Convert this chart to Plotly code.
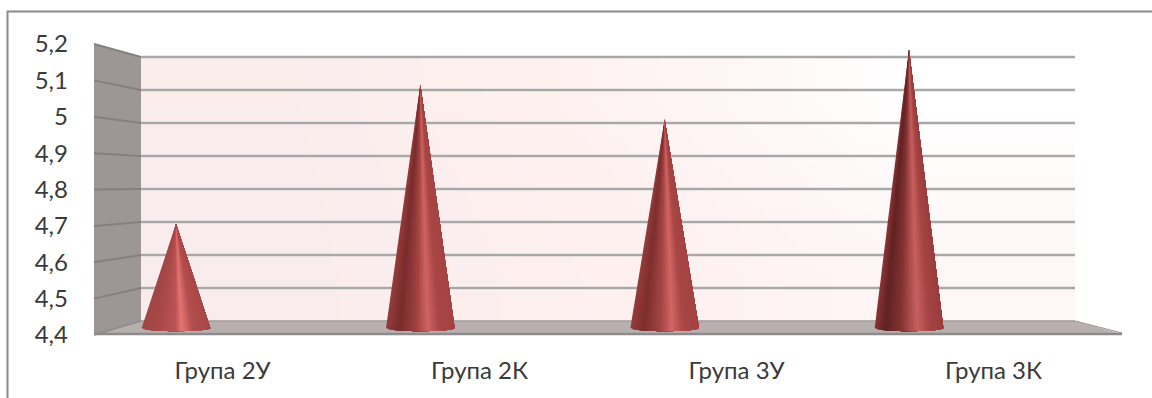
import plotly.graph_objects as go

# Chart data
groups = ["Група 2У", "Група 2К", "Група 3У", "Група 3К"]
values = [4.7, 5.1, 5.0, 5.2]
tick_values = [4.4, 4.5, 4.6, 4.7, 4.8, 4.9, 5.0, 5.1, 5.2]
tick_labels = ["4,4", "4,5", "4,6", "4,7", "4,8", "4,9", "5", "5,1", "5,2"]

W, H = 1152, 398
Y_MIN = 4.4

# Screen geometry of the pseudo-3D box
FRONT_L, FRONT_R = 94, 1122
BACK_L, BACK_R = 141, 1075
BACK_Y0, BACK_STEP = 321, 330.0    # back wall: pixel of 4.4, pixels per unit
FRONT_Y0, FRONT_STEP = 335, 363.75  # front edge of the box
MID_Y0, MID_STEP = 328, 347.5       # plane through the cone axes
CONE_X0, CONE_DX = 176, 244.33      # cone centres on screen
LABEL_X0, LABEL_DX = 222.5, 257     # category label centres on screen


def back_y(v):
    return BACK_Y0 - (v - Y_MIN) * BACK_STEP


def front_y(v):
    return FRONT_Y0 - (v - Y_MIN) * FRONT_STEP


def mix(stops, t):
    for (t0, c0), (t1, c1) in zip(stops, stops[1:]):
        if t <= t1:
            k = (t - t0) / (t1 - t0)
            rgb = [round(a + (b - a) * k) for a, b in zip(c0, c1)]
            return f"rgb({rgb[0]},{rgb[1]},{rgb[2]})"
    return "rgb({},{},{})".format(*stops[-1][1])


def poly(xs, ys, color, line=None, width=0):
    return go.Scatter(
        x=xs, y=ys, mode="lines", fill="toself", fillcolor=color,
        line=dict(color=line or color, width=width), hoverinfo="skip",
        showlegend=False, xaxis="x", yaxis="y",
    )


def stroke(xs, ys, color, width):
    return go.Scatter(
        x=xs, y=ys, mode="lines", line=dict(color=color, width=width),
        hoverinfo="skip", showlegend=False, xaxis="x", yaxis="y",
    )


traces = []

# Back wall with a soft diagonal pink wash (cell edges bound it to the wall)
traces.append(go.Heatmap(
    x=[BACK_L, BACK_L + 311, BACK_L + 622, BACK_R],
    y=[back_y(5.2), back_y(4.93), back_y(4.67), back_y(4.4)],
    z=[[0.05, 0.55, 1.0],
       [0.02, 0.45, 0.85],
       [0.0, 0.38, 0.72]],
    zmin=0, zmax=1, zsmooth="best", showscale=False, hoverinfo="skip",
    colorscale=[[0, "#f9ecec"], [0.4, "#fdf0ef"], [0.7, "#fef6f5"], [1, "#ffffff"]],
    xaxis="x", yaxis="y",
))

# Floor and left wall
traces.append(poly([BACK_L, BACK_R, FRONT_R, FRONT_L],
                   [BACK_Y0, BACK_Y0, FRONT_Y0 - 1, FRONT_Y0 - 1], "#b8b0b0"))
traces.append(poly([FRONT_L, BACK_L, BACK_L, FRONT_L],
                   [front_y(5.2), back_y(5.2), BACK_Y0, FRONT_Y0], "#9d9696"))

# Gridlines bending from the side wall onto the back wall
for v in tick_values:
    if v == Y_MIN:
        continue
    traces.append(stroke([FRONT_L, BACK_L], [front_y(v), back_y(v)], "#858080", 2))
    traces.append(stroke([BACK_L, BACK_R], [back_y(v), back_y(v)], "#d4d2d2", 3))
    traces.append(stroke([BACK_L, BACK_R], [back_y(v), back_y(v)], "#9b9a9a", 1.5))

# Box outline along the floor
traces.append(stroke([BACK_L, BACK_R], [BACK_Y0, BACK_Y0], "#a09a9a", 1.5))
traces.append(stroke([BACK_L, FRONT_L], [BACK_Y0, FRONT_Y0], "#8f8b8b", 1.5))
traces.append(stroke([FRONT_L, FRONT_R], [FRONT_Y0 - 1, FRONT_Y0 - 1], "#8c8a8a", 2.5))
traces.append(stroke([BACK_R, FRONT_R], [BACK_Y0, FRONT_Y0 - 2], "#9a9595", 1.2))

# Chart frame
traces.append(stroke([7.5, 7.5, W], [H, 11.5, 11.5], "#8a8a8a", 2))

# Cone shading, left edge to right edge, one palette per cone
palettes = [
    [(-1, (160, 70, 70)), (-0.5, (170, 72, 72)), (0.0, (188, 84, 84)), (0.16, (230, 116, 114)),
     (0.5, (178, 78, 78)), (1, (170, 70, 70))],
    [(-1, (150, 60, 60)), (-0.6, (120, 44, 44)), (-0.1, (160, 66, 66)), (0.22, (208, 100, 98)),
     (0.55, (168, 70, 70)), (1, (165, 66, 66))],
    [(-1, (150, 60, 60)), (-0.6, (125, 46, 46)), (-0.1, (165, 70, 70)), (0.22, (210, 102, 100)),
     (0.55, (168, 70, 70)), (1, (165, 66, 66))],
    [(-1, (140, 52, 52)), (-0.7, (96, 34, 34)), (-0.25, (130, 50, 50)), (0.25, (200, 96, 94)),
     (0.6, (165, 68, 68)), (1, (155, 60, 60))],
]

# Each band runs from its left edge to the cone's right edge and is painted over
# by the next one, so no seams appear between bands.
BANDS = 40
half_width = 34.3 / CONE_DX
base_depth = 3.2 / MID_STEP
for i, v in enumerate(values):
    for s in range(BANDS):
        us = [-1 + 2 * (s + k * (BANDS - s) / 24) / BANDS for k in range(25)]
        traces.append(go.Scatter(
            x=[i] + [i + half_width * u for u in us] + [i],
            y=[v] + [Y_MIN - base_depth * max(0, 1 - u * u) ** 0.5 for u in us] + [v],
            mode="none", fill="toself",
            fillcolor=mix(palettes[i], -1 + 2 * (s + 0.5) / BANDS),
            hoverinfo="skip", showlegend=False, xaxis="x2", yaxis="y2",
        ))

# Carrier for the visible category and value axes
traces.append(go.Scatter(
    x=list(range(len(groups))), y=values, mode="markers",
    marker=dict(opacity=0, size=1), hoverinfo="skip", showlegend=False,
    xaxis="x3", yaxis="y3",
))

font_family = "Lato, Carlito, 'Open Sans', sans-serif"
hidden = dict(visible=False, fixedrange=True)

fig = go.Figure(traces)
fig.update_layout(
    width=W, height=H, margin=dict(l=0, r=0, t=0, b=0),
    paper_bgcolor="white", plot_bgcolor="rgba(0,0,0,0)", showlegend=False,
    xaxis=dict(range=[0, W], domain=[0, 1], **hidden),
    yaxis=dict(range=[H, 0], domain=[0, 1], **hidden),
    xaxis2=dict(range=[-CONE_X0 / CONE_DX, (W - CONE_X0) / CONE_DX],
                overlaying="x", anchor="y2", **hidden),
    yaxis2=dict(range=[Y_MIN - (H - MID_Y0) / MID_STEP, Y_MIN + MID_Y0 / MID_STEP],
                overlaying="y", anchor="x2", **hidden),
    xaxis3=dict(range=[-LABEL_X0 / LABEL_DX, (W - LABEL_X0) / LABEL_DX],
                overlaying="x", anchor="free", position=1 - FRONT_Y0 / H, side="bottom",
                tickmode="array", tickvals=list(range(len(groups))), ticktext=groups,
                ticks="", showgrid=False, zeroline=False, showline=False, fixedrange=True,
                ticklabelstandoff=19, tickfont=dict(family=font_family, size=24, color="#3a3a3a")),
    yaxis3=dict(range=[Y_MIN - (H - FRONT_Y0) / FRONT_STEP, Y_MIN + FRONT_Y0 / FRONT_STEP],
                overlaying="y", anchor="free", position=68 / W, side="left",
                tickmode="array", tickvals=tick_values, ticktext=tick_labels,
                ticks="", showgrid=False, zeroline=False, showline=False, fixedrange=True,
                tickfont=dict(family=font_family, size=24, color="#3a3a3a")),
)

fig.write_html("out.html", config={"displayModeBar": False})
